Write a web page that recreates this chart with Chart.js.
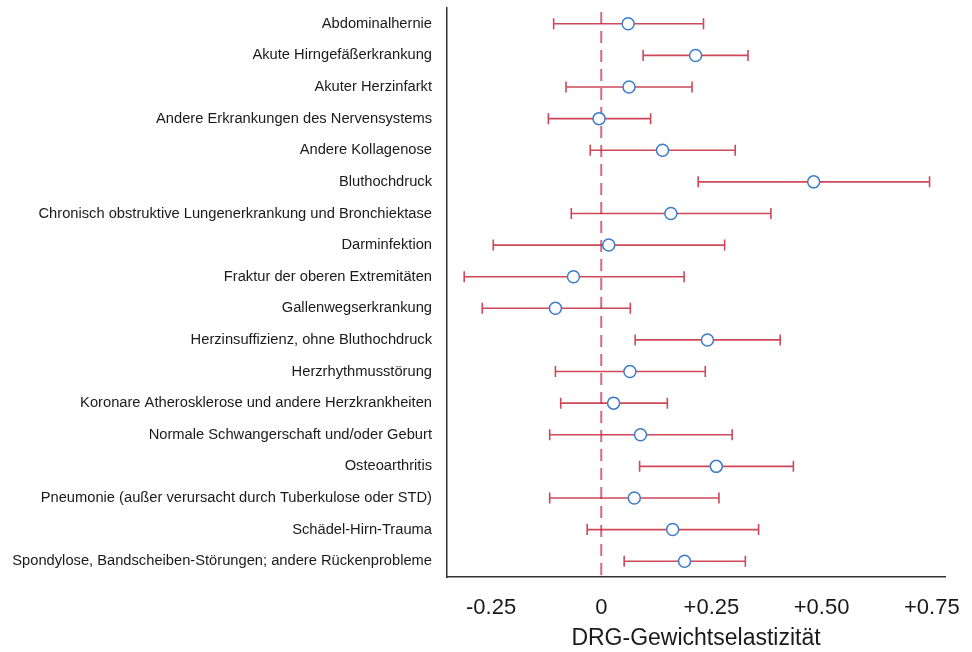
<!DOCTYPE html>
<html>
<head>
<meta charset="utf-8">
<script src="https://cdn.jsdelivr.net/npm/chart.js@4"></script>
<style>
  html, body { margin: 0; padding: 0; background: #fff; }
  #wrap { width: 972px; height: 652px; }
</style>
</head>
<body>
<div id="wrap"><canvas id="forest"></canvas></div>
<script>
// Data
const CATEGORIES = [
    'Abdominalhernie',
    'Akute Hirngefäßerkrankung',
    'Akuter Herzinfarkt',
    'Andere Erkrankungen des Nervensystems',
    'Andere Kollagenose',
    'Bluthochdruck',
    'Chronisch obstruktive Lungenerkrankung und Bronchiektase',
    'Darminfektion',
    'Fraktur der oberen Extremitäten',
    'Gallenwegserkrankung',
    'Herzinsuffizienz, ohne Bluthochdruck',
    'Herzrhythmusstörung',
    'Koronare Atherosklerose und andere Herzkrankheiten',
    'Normale Schwangerschaft und/oder Geburt',
    'Osteoarthritis',
    'Pneumonie (außer verursacht durch Tuberkulose oder STD)',
    'Schädel-Hirn-Trauma',
    'Spondylose, Bandscheiben-Störungen; andere Rückenprobleme'
];
const ESTIMATES = [0.061, 0.214, 0.063, -0.005, 0.139, 0.482, 0.158, 0.017, -0.063, -0.104, 0.241, 0.065, 0.028, 0.089, 0.261, 0.075, 0.162, 0.189];
const LOWER     = [-0.108, 0.095, -0.080, -0.120, -0.025, 0.220, -0.068, -0.245, -0.311, -0.270, 0.077, -0.104, -0.092, -0.117, 0.087, -0.117, -0.032, 0.052];
const UPPER     = [0.232, 0.333, 0.206, 0.112, 0.304, 0.745, 0.385, 0.280, 0.188, 0.066, 0.406, 0.236, 0.150, 0.297, 0.436, 0.267, 0.357, 0.327];
const X_TICKS = [-0.25, 0, 0.25, 0.5, 0.75];
const X_TICK_LABELS = ['-0.25', '0', '+0.25', '+0.50', '+0.75'];

const FONT = '"Liberation Sans", Arial, sans-serif';
const RED = 'rgba(198, 40, 60, 0.85)';

// Draws the reference line at 0 and the confidence intervals under the points
const whiskerPlugin = {
    id: 'whiskers',
    beforeDatasetsDraw(chart) {
        const { ctx, chartArea, scales: { x, y } } = chart;
        ctx.save();

        // dashed zero line
        const x0 = x.getPixelForValue(0);
        ctx.strokeStyle = 'rgba(205, 80, 100, 0.85)';
        ctx.lineWidth = 2;
        ctx.setLineDash([12, 7]);
        ctx.beginPath();
        ctx.moveTo(x0, chartArea.top + 4);
        ctx.lineTo(x0, chartArea.bottom);
        ctx.stroke();
        ctx.setLineDash([]);

        // error bars with caps
        ctx.strokeStyle = RED;
        ctx.lineWidth = 1.6;
        CATEGORIES.forEach((c, i) => {
            const py = y.getPixelForValue(i);
            const xl = x.getPixelForValue(LOWER[i]);
            const xu = x.getPixelForValue(UPPER[i]);
            ctx.beginPath();
            ctx.moveTo(xl, py);
            ctx.lineTo(xu, py);
            ctx.moveTo(xl, py - 5.5);
            ctx.lineTo(xl, py + 5.5);
            ctx.moveTo(xu, py - 5.5);
            ctx.lineTo(xu, py + 5.5);
            ctx.stroke();
        });
        ctx.restore();
    }
};

const ctx = document.getElementById('forest').getContext('2d');
new Chart(ctx, {
    type: 'scatter',
    data: {
        datasets: [{
            label: 'Elastizität',
            data: CATEGORIES.map((c, i) => ({ x: ESTIMATES[i], y: c })),
            pointStyle: 'circle',
            pointRadius: 6,
            pointBorderWidth: 1.5,
            pointBorderColor: '#3c7cc8',
            pointBackgroundColor: '#ffffff'
        }]
    },
    options: {
        responsive: true,
        maintainAspectRatio: false,
        animation: false,
        layout: { padding: { top: 8, right: 27, bottom: 0, left: 0 } },
        plugins: {
            legend: { display: false },
            tooltip: { enabled: false }
        },
        scales: {
            x: {
                type: 'linear',
                min: -0.35,
                max: 0.78,
                afterBuildTicks: (scale) => {
                    scale.ticks = X_TICKS.map(v => ({ value: v }));
                },
                afterFit: (scale) => {
                    scale.height = 75;
                    scale.paddingLeft = 0;
                    scale.paddingRight = 0;
                },
                grid: { display: false, drawTicks: false },
                border: { display: true, color: '#333333', width: 1.5 },
                ticks: {
                    padding: 18,
                    color: '#1a1a1a',
                    font: { family: FONT, size: 22 },
                    callback: (v) => X_TICK_LABELS[X_TICKS.indexOf(v)]
                },
                title: {
                    display: true,
                    text: 'DRG-Gewichtselastizität',
                    color: '#1a1a1a',
                    font: { family: FONT, size: 23 },
                    padding: { top: 0, bottom: 0 }
                }
            },
            y: {
                type: 'category',
                labels: CATEGORIES,
                offset: true,
                afterFit: (scale) => {
                    scale.width = 447;
                    scale.paddingTop = 0;
                    scale.paddingBottom = 0;
                },
                grid: { display: false, drawTicks: false },
                border: { display: true, color: '#333333', width: 1.5 },
                ticks: {
                    padding: 15,
                    color: '#1a1a1a',
                    autoSkip: false,
                    font: { family: FONT, size: 14.7 }
                }
            }
        }
    },
    plugins: [whiskerPlugin]
});
</script>
</body>
</html>
